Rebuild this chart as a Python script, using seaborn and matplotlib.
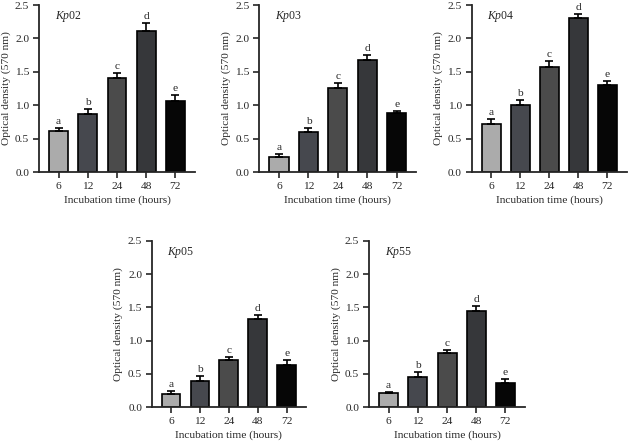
import numpy as np
import pandas as pd
import matplotlib
matplotlib.use("Agg")
import matplotlib.pyplot as plt
import seaborn as sns

# Data
times = ["6", "12", "24", "48", "72"]
letters = ["a", "b", "c", "d", "e"]
bar_colors = ["#ababab", "#45474f", "#4b4b4b", "#35363b", "#060606"]

strains = ["02", "03", "04", "05", "55"]
kp02_mean = [0.62, 0.865, 1.405, 2.115, 1.065]
kp02_err = [0.045, 0.085, 0.08, 0.12, 0.09]
kp03_mean = [0.22, 0.605, 1.26, 1.67, 0.88]
kp03_err = [0.05, 0.055, 0.07, 0.08, 0.03]
kp04_mean = [0.715, 1.005, 1.575, 2.31, 1.30]
kp04_err = [0.075, 0.075, 0.085, 0.06, 0.065]
kp05_mean = [0.20, 0.40, 0.715, 1.32, 0.64]
kp05_err = [0.04, 0.07, 0.045, 0.07, 0.07]
kp55_mean = [0.215, 0.455, 0.815, 1.44, 0.36]
kp55_err = [0.015, 0.08, 0.045, 0.075, 0.065]

means = [kp02_mean, kp03_mean, kp04_mean, kp05_mean, kp55_mean]
errs = [kp02_err, kp03_err, kp04_err, kp05_err, kp55_err]

sns.set_style("ticks")
plt.rcParams['font.family'] = ['Liberation Serif', 'DejaVu Serif']
plt.rcParams['mathtext.fontset'] = 'custom'
plt.rcParams['mathtext.it'] = 'Liberation Serif:italic'
plt.rcParams['mathtext.rm'] = 'Liberation Serif'

fig = plt.figure(figsize=(6.28, 4.43), dpi=100)

# axes boxes (left, bottom, width, height) in figure fractions
boxes = [
    [0.0621, 0.6117, 0.2484, 0.377],
    [0.4129, 0.6117, 0.2500, 0.377],
    [0.7511, 0.6117, 0.2470, 0.377],
    [0.2416, 0.0806, 0.2457, 0.376],
    [0.5876, 0.0806, 0.2484, 0.376],
]

fs = 8.2
for strain, m, e, box in zip(strains, means, errs, boxes):
    ax = fig.add_axes(box)
    df = pd.DataFrame({"time": times, "od": m})
    sns.barplot(data=df, x="time", y="od", hue="time", palette=bar_colors,
                order=times, errorbar=None, width=0.65, edgecolor="black",
                linewidth=1.2, legend=False, ax=ax)
    x = np.arange(len(times))
    ax.errorbar(x, m, yerr=[np.zeros(len(m)), e], fmt="none", ecolor="black",
                elinewidth=1.2, capsize=3.2, capthick=1.2, zorder=3)
    for xi, mi, ei, lt in zip(x, m, e, letters):
        ax.text(xi, mi + ei + 0.03, lt, ha="center", va="bottom", fontsize=fs)
    ax.text(0.1, 0.93, r"$Kp$" + strain, transform=ax.transAxes,
            ha="left", va="center", fontsize=fs + 0.3)
    ax.set_xlim(-0.67, 4.67)
    ax.set_ylim(0, 2.5)
    ax.set_yticks([0, 0.5, 1.0, 1.5, 2.0, 2.5])
    ax.set_yticklabels(["0.0", "0.5", "1.0", "1.5", "2.0", "2.5"])
    ax.set_xlabel("Incubation time (hours)", fontsize=fs, labelpad=3)
    ax.set_ylabel("Optical density (570 nm)", fontsize=fs, labelpad=3)
    ax.tick_params(axis="both", labelsize=fs, width=1.2, length=4, pad=3)
    sns.despine(ax=ax)
    for sp in ["left", "bottom"]:
        ax.spines[sp].set_linewidth(1.3)

fig.savefig("out.png", dpi=100)
